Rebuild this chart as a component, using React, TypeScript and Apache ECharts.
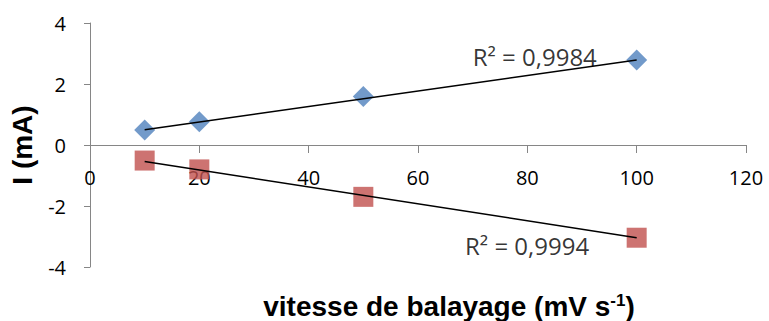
import React, { useEffect, useRef } from "react";
import * as echarts from "echarts";

const speeds = [10, 20, 50, 100];
const anodicI = [0.49, 0.76, 1.59, 2.79];
const cathodicI = [-0.51, -0.8, -1.7, -3.04];
const trendX = [10, 100];
const anodicTrendY = [0.5, 2.79];
const cathodicTrendY = [-0.54, -3.04];
const r2Texts = ["R² = 0,9984", "R² = 0,9994"];
const r2X = [70, 68.6];
const r2Y = [2.9, -3.3];

export default function App() {
  const ref = useRef<HTMLDivElement>(null);
  useEffect(() => {
    const chart = echarts.init(ref.current!, null, { renderer: "svg" });
    const tickFont = { fontFamily: "Open Sans", fontSize: 20, color: "#000" };
    const axisStyle = { color: "#868686", width: 1 };
    const gridTop = 23;
    const gridBottom = 54;
    const plotH = 321 - gridTop - gridBottom;
    chart.setOption({
      animation: false,
      backgroundColor: "#fff",
      grid: { left: 90, right: 23, top: gridTop, bottom: gridBottom, containLabel: false, outerBoundsMode: "none" },
      xAxis: {
        type: "value",
        min: 0,
        max: 120,
        interval: 20,
        position: "bottom",
        offset: -plotH / 2,
        axisLine: { show: true, onZero: false, lineStyle: axisStyle },
        axisTick: { show: true, inside: false, length: 8, lineStyle: axisStyle },
        splitLine: { show: false },
        axisLabel: { ...tickFont, margin: 22 },
        name: "vitesse de balayage (mV s{sup|-1})",
        nameLocation: "middle",
        nameGap: 147,
        nameTextStyle: {
          fontFamily: "Liberation Sans",
          fontWeight: "bold",
          fontSize: 28,
          lineHeight: 28,
          color: "#000",
          padding: [0, 0, 0, 62],
          rich: {
            sup: {
              fontFamily: "Liberation Sans",
              fontWeight: "bold",
              fontSize: 17,
              lineHeight: 28,
              color: "#000",
              padding: [0, 0, 12, 0],
            },
          },
        },
      },
      yAxis: {
        type: "value",
        min: -4,
        max: 4,
        interval: 2,
        axisLine: { show: true, onZero: false, lineStyle: axisStyle },
        axisTick: { show: true, inside: false, length: 6, lineStyle: axisStyle },
        splitLine: { show: false },
        axisLabel: { ...tickFont, margin: 24 },
        name: "I (mA)",
        nameLocation: "middle",
        nameRotate: 90,
        nameGap: 54,
        nameTextStyle: {
          fontFamily: "Liberation Sans",
          fontWeight: "bold",
          fontSize: 28,
          color: "#000",
        },
      },
      series: [
        {
          type: "scatter",
          symbol: "diamond",
          symbolSize: [21, 21],
          itemStyle: { color: "#4F81BD" },
          data: speeds.map((s, i) => [s, anodicI[i]]),
          z: 2,
        },
        {
          type: "scatter",
          symbol: "rect",
          symbolSize: [20, 20],
          itemStyle: { color: "#C0504D" },
          data: speeds.map((s, i) => [s, cathodicI[i]]),
          z: 2,
        },
        {
          type: "line",
          showSymbol: false,
          symbol: "none",
          lineStyle: { color: "#000", width: 1.5 },
          data: trendX.map((x, i) => [x, anodicTrendY[i]]),
          z: 3,
        },
        {
          type: "line",
          showSymbol: false,
          symbol: "none",
          lineStyle: { color: "#000", width: 1.5 },
          data: trendX.map((x, i) => [x, cathodicTrendY[i]]),
          z: 3,
        },
        {
          type: "scatter",
          symbolSize: 0,
          silent: true,
          data: r2Texts.map((t, i) => ({ value: [r2X[i], r2Y[i]], name: t })),
          label: {
            show: true,
            position: [0, 0],
            align: "left",
            verticalAlign: "middle",
            formatter: (p: any) => p.name,
            fontFamily: "Open Sans",
            fontSize: 24,
            color: "#000",
          },
          z: 4,
        },
      ],
    });
    return () => chart.dispose();
  }, []);
  return (
    <div
      ref={ref}
      style={{ position: "fixed", left: 0, top: 0, width: 769, height: 321, background: "#fff" }}
    />
  );
}
